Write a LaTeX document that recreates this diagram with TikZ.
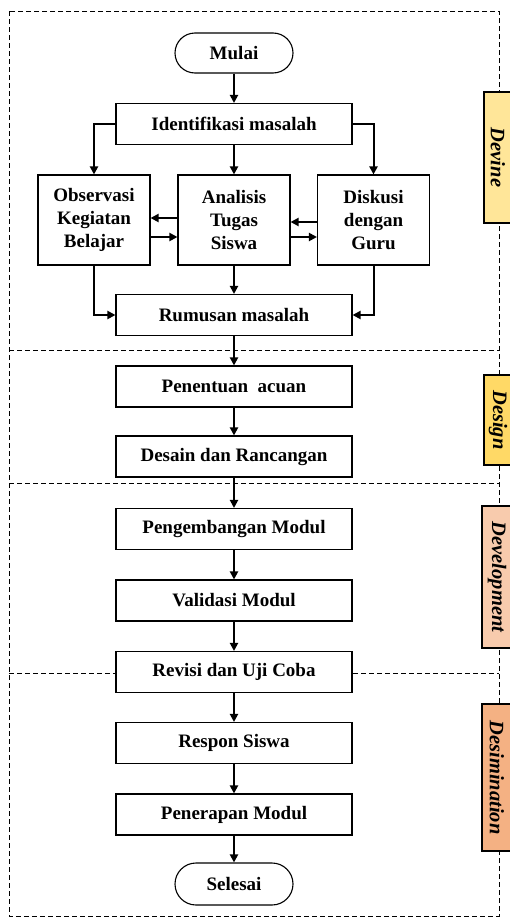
\documentclass[tikz,border=0pt]{standalone}
\usepackage{fontspec}
\setmainfont{Liberation Serif}
\usetikzlibrary{arrows.meta,calc}
\definecolor{cDev}{HTML}{FFE699}
\definecolor{cDes}{HTML}{FFD966}
\definecolor{cDvl}{HTML}{F8CBAD}
\definecolor{cDsm}{HTML}{F4B183}
\begin{document}
\begin{tikzpicture}[x=1pt,y=-1pt,
 box/.style={draw,line width=1.1pt,fill=white,minimum width=236pt,minimum height=41pt,inner sep=0pt,font=\bfseries\fontsize{19}{23}\selectfont},
 sbox/.style={box,minimum width=112pt,minimum height=90pt,align=center},
 term/.style={box,minimum width=118pt,minimum height=40pt,rounded corners=20pt},
 arr/.style={line width=2pt,-{Triangle[length=8pt,width=8pt]}},
 frame/.style={dash pattern=on 5pt off 3pt,line width=0.9pt},
 tag/.style={draw,line width=1.1pt,inner sep=0pt,rotate=-90,font=\bfseries\itshape\fontsize{20.5}{24}\selectfont}]
\useasboundingbox (0,0) rectangle (510,918);
% frame and dividers
\draw[frame] (9,11) rectangle (499,916);
\draw[frame] (9,350) -- (499,350);
\draw[frame] (9,483) -- (499,483);
\draw[frame] (9,673) -- (499,673);
% phase tags
\node[tag,fill=cDev,minimum width=131pt,minimum height=28pt] (tDev) at (498,157.5) {Devine};
\node[tag,fill=cDes,minimum width=90pt,minimum height=28pt] (tDes) at (498,420) {Design};
\node[tag,fill=cDvl,minimum width=142pt,minimum height=30pt] (tDvl) at (497,577) {Development};
\node[tag,fill=cDsm,minimum width=147pt,minimum height=30pt] (tDsm) at (497,777.5) {Desimination};
% nodes
\node[term] (mulai) at (234,53) {Mulai};
\node[box] (iden) at (234,124) {Identifikasi masalah};
\node[sbox] (obs) at (94,220) {Observasi\\Kegiatan\\Belajar};
\node[sbox] (ana) at (234,220) {Analisis\\Tugas\\Siswa};
\node[sbox] (dis) at (373.5,220) {Diskusi\\dengan\\Guru};
\node[box] (rum) at (234,315) {Rumusan masalah};
\node[box] (pen) at (234,386.5) {Penentuan\ \ acuan};
\node[box] (des) at (234,456.5) {Desain dan Rancangan};
\node[box] (pgm) at (234,529) {Pengembangan Modul};
\node[box] (val) at (234,600.5) {Validasi Modul};
\node[box] (rev) at (234,672) {Revisi dan Uji Coba};
\node[box] (res) at (234,743) {Respon Siswa};
\node[box] (ptm) at (234,814.5) {Penerapan Modul};
\node[term,minimum height=42pt,rounded corners=21pt] (sel) at (234,884) {Selesai};
% connectors
\draw[arr] (mulai) -- (iden);
\draw[arr] (iden.west) -| (obs.north);
\draw[arr] (iden.east) -| (dis.north);
\draw[arr] (iden) -- (ana);
\draw[arr] (ana.west |- 0,218) -- (obs.east |- 0,218);
\draw[arr] (obs.east |- 0,237) -- (ana.west |- 0,237);
\draw[arr] (dis.west |- 0,222) -- (ana.east |- 0,222);
\draw[arr] (ana.east |- 0,237) -- (dis.west |- 0,237);
\draw[arr] (obs.south) |- (rum.west);
\draw[arr] (dis.south) |- (rum.east);
\draw[arr] (ana) -- (rum);
\draw[arr] (rum) -- (pen);
\draw[arr] (pen) -- (des);
\draw[arr] (des) -- (pgm);
\draw[arr] (pgm) -- (val);
\draw[arr] (val) -- (rev);
\draw[arr] (rev) -- (res);
\draw[arr] (res) -- (ptm);
\draw[arr] (ptm) -- (sel);
\end{tikzpicture}
\end{document}
